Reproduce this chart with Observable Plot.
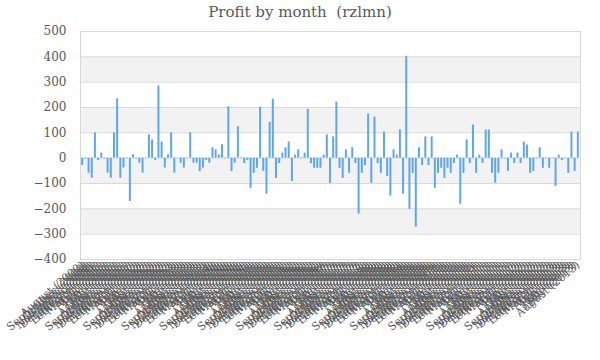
<!DOCTYPE html>
<html>
<head>
<meta charset="utf-8">
<script src="https://cdn.jsdelivr.net/npm/d3@7"></script>
<script src="https://cdn.jsdelivr.net/npm/@observablehq/plot@0.6"></script>
<style>
  html, body { margin: 0; padding: 0; background: #fff; }
  #title { height: 24px; line-height: 24px; text-align: center; font-family: "DejaVu Serif", Georgia, serif; font-size: 15px; color: #595959; white-space: pre; }
</style>
</head>
<body>
<div id="title">Profit by month  (rzlmn)</div>
<div id="chart"></div>
<script>
const monthNames = ["January","February","March","April","May","June","July","August","September","October","November","December"];
const startYear = 2000;
const startMonth = 7; // August
const profit = [
  -29, -3, -59, -79, 100, -9, 20, -3, -59, -79,
  100, 234, -79, -39, -2, -171, 13, -3, -20, -59,
  -2, 92, 72, -9, 285, 64, -39, 13, 100, -59,
  -2, -20, -39, -2, 100, -20, -20, -53, -39, -9,
  -20, 41, 33, 13, 53, -2, 203, -53, -20, 124,
  2, -21, -9, -119, -60, -40, 201, -52, -142, 142,
  233, -80, -21, 20, 41, 64, -92, 12, 33, 3,
  20, 193, -21, -40, -40, -40, 12, 92, -99, 84,
  221, -40, -80, 33, -60, 41, -21, -221, -60, -29,
  174, -99, 162, -21, -60, 103, -72, -150, 33, 12,
  111, -142, 401, -202, -60, -272, 41, -29, 84, -29,
  84, -119, -60, -40, -80, -40, -60, -21, 12, -182,
  -60, 72, -21, 131, -60, 12, -21, 111, 111, -60,
  -99, -60, 33, -2, -52, 20, -21, 20, -21, 64,
  52, -60, -52, -3, 41, -40, -2, -40, -2, -111,
  12, -9, -2, -60, 103, -52, 103
];
const labels = profit.map((_, i) => {
  const m = (startMonth + i) % 12;
  const y = startYear + Math.floor((startMonth + i) / 12);
  return `${monthNames[m]} (${y})`;
});
const data = profit.map((v, i) => ({label: labels[i], value: v}));
const yTicks = [-400, -300, -200, -100, 0, 100, 200, 300, 400, 500];
const bands = [[400, 300], [200, 100], [0, -100], [-200, -300]].map(([a, b]) => ({y1: a, y2: b}));

const chart = Plot.plot({
  width: 600,
  height: 336,
  marginTop: 7,
  marginLeft: 80,
  marginRight: 20,
  marginBottom: 101,
  style: {fontFamily: "'DejaVu Serif', Georgia, serif", fontSize: "11px", color: "#595959", background: "#fff"},
  x: {type: "band", domain: labels, padding: 0.38, round: false, label: null},
  y: {domain: [-400, 500], label: null},
  marks: [
    Plot.rectY(bands, {y1: "y1", y2: "y2", fill: "#f2f2f2"}),
    Plot.gridY(yTicks, {stroke: "#d9d9d9", strokeOpacity: 1}),
    Plot.frame({stroke: "#d9d9d9"}),
    Plot.barY(data, {x: "label", y: "value", fill: "#5aa6f2"}),
    Plot.axisY(yTicks, {tickSize: 0, tickPadding: 14, fontSize: 12}),
    Plot.axisX({tickSize: 0, tickRotate: -40, tickPadding: 4, fontSize: 11})
  ]
});
document.getElementById("chart").appendChild(chart);
</script>
</body>
</html>
